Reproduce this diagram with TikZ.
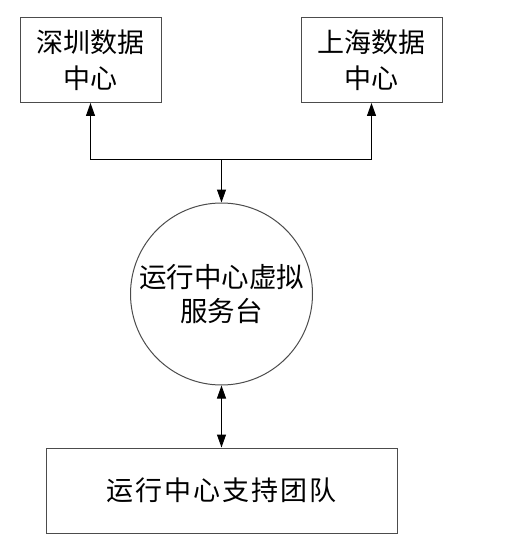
\documentclass[tikz,border=0pt]{standalone}
\usepackage{fontspec}
\newfontfamily\cjk{Noto Sans CJK SC}
\usetikzlibrary{arrows.meta}
\begin{document}
\begin{tikzpicture}[x=1pt,y=-1pt,
  box/.style={draw=black!70,line width=1pt,inner sep=0pt,font=\cjk\fontsize{27}{36}\selectfont,align=center},
  arr/.style={draw=black,line width=1pt,-{Triangle[length=13pt,width=9pt]}},
  darr/.style={draw=black,line width=1pt,{Triangle[length=13pt,width=9pt]}-{Triangle[length=13pt,width=9pt]}}]
\useasboundingbox (0,0) rectangle (525,548);
\node[box,minimum width=141pt,minimum height=85pt] (sz) at (90.5,60) {深圳数据\\中心};
\node[box,minimum width=141pt,minimum height=85pt] (sh) at (371.5,60) {上海数据\\中心};
\node[box,circle,minimum size=182pt,font=\cjk\fontsize{27.5}{34}\selectfont] (vs) at (221.5,294) {运行中心虚拟\\服务台};
\node[box,minimum width=351pt,minimum height=85pt] (team) at (221.5,490.5) {运\hspace{2pt}行\hspace{2pt}中\hspace{2pt}心\hspace{2pt}支\hspace{2pt}持\hspace{2pt}团\hspace{2pt}队};
\coordinate (j) at (221.5,160);
\draw[arr] (j) -| (sz.south);
\draw[arr] (j) -| (sh.south);
\draw[arr] (j) -- (vs.north);
\draw[darr] (vs.south) -- (team.north);
\end{tikzpicture}
\end{document}
